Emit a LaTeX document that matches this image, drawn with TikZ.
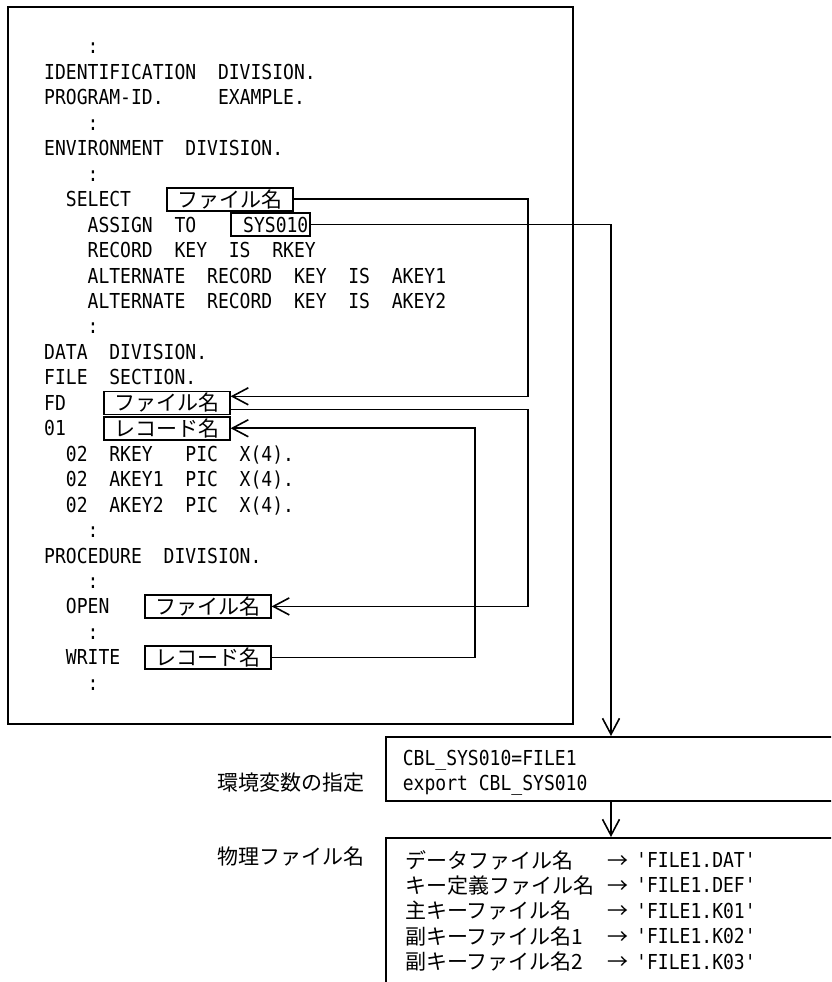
\documentclass[tikz,border=0pt]{standalone}
\usepackage{fontspec}
\usetikzlibrary{arrows.meta, positioning, calc}
\newfontfamily\jpfont{Noto Sans CJK JP}
\newfontfamily\codefont[FakeStretch=0.876]{DejaVu Sans Mono}

\tikzset{
  code/.style={font=\codefont\fontsize{20.6}{25.4}\selectfont, anchor=west, inner sep=0pt, text height=15pt, text depth=0pt},
  jptext/.style={font=\jpfont\fontsize{21}{25.4}\selectfont, anchor=west, inner sep=0pt, text height=18.5pt, text depth=2.5pt},
  namebox/.style={jptext, draw, line width=1.6pt, inner xsep=10.5pt, minimum height=23pt},
  panel/.style={draw, line width=1.6pt, anchor=north west, minimum width=480pt},
  link/.style={line width=1.6pt},
  arrowlink/.style={link, -{Straight Barb[length=16pt, width=17pt]}},
}

\begin{document}
\begin{tikzpicture}[x=1pt, y=-1pt]
  \useasboundingbox (0,0) rectangle (831,982);
  \clip (0,0) rectangle (831,982);

  % program listing
  \draw[line width=2pt] (8,7) rectangle (573,724);
  \foreach \i/\col/\txt in {0/4/:, 1/0/IDENTIFICATION~~DIVISION., 2/0/PROGRAM-ID.~~~~~EXAMPLE.,
      3/4/:, 4/0/ENVIRONMENT~~DIVISION., 5/4/:, 6/2/SELECT, 7/4/ASSIGN~~TO,
      8/4/RECORD~~KEY~~IS~~RKEY, 9/4/ALTERNATE~~RECORD~~KEY~~IS~~AKEY1,
      10/4/ALTERNATE~~RECORD~~KEY~~IS~~AKEY2, 11/4/:, 12/0/DATA~~DIVISION.,
      13/0/FILE~~SECTION., 14/0/FD, 15/0/01, 16/2/02~~RKEY~~~PIC~~X(4).,
      17/2/02~~AKEY1~~PIC~~X(4)., 18/2/02~~AKEY2~~PIC~~X(4)., 19/4/:,
      20/0/PROCEDURE~~DIVISION., 21/4/:, 22/2/OPEN, 23/4/:, 24/2/WRITE, 25/4/:}
    \node[code] (l\i) at ({44+10.86*\col},{46.5+25.45*\i}) {\txt};

  % names in the listing
  \node[namebox] (selfile) at (166,{46.5+25.45*6}) {ファイル名};
  \node[code, draw, line width=1.6pt, inner xsep=1.5pt, minimum height=23pt] (sysname) at (230,{46.5+25.45*7}) {~SYS010};
  \node[namebox] (fdfile) at (103,{46.5+25.45*14}) {ファイル名};
  \node[namebox] (recname) at (103,{46.5+25.45*15}) {レコード名};
  \node[namebox] (openfile) at (144,{46.5+25.45*22}) {ファイル名};
  \node[namebox] (writerec) at (144,{46.5+25.45*24}) {レコード名};

  % environment variable and physical files
  \node[jptext] (envlabel) at (217,782) {環境変数の指定};
  \node[panel, code, anchor=north west, align=left, text width=446pt, inner xsep=17pt,
        text height=18pt, text depth=25.4pt, minimum height=64pt] (envbox) at (385,736)
        {CBL\_SYS010=FILE1\\export\hspace{10.86pt}CBL\_SYS010};
  \node[jptext] (physlabel) at (217,856) {物理ファイル名};
  \node[panel, minimum height=170pt] (physbox) at (385,837) {};
  \foreach \nm/\ext [count=\k from 0] in {データファイル名/DAT, キー定義ファイル名/DEF,
      主キーファイル名/K01, 副キーファイル名1/K02, 副キーファイル名2/K03} {
    \node[jptext] (pn\k) at (405,{860+25.4*\k}) {\nm};
    \node[jptext] (pa\k) at (607,{860+25.4*\k}) {→};
    \node[code] (pf\k) at (636,{860+25.4*\k}) {'FILE1.\ext'};
  }

  % connectors
  \coordinate (xa) at (528,0);
  \coordinate (xb) at (475,0);
  \coordinate (xc) at (611,0);
  \coordinate (fdin) at ([yshift=6.5pt]fdfile.east);
  \coordinate (fdout) at ([yshift=-6.5pt]fdfile.east);
  \draw[arrowlink] (selfile.east) -- (selfile.east -| xa) |- (fdin);
  \draw[arrowlink] (fdout) -- (fdout -| xa) |- (openfile.east);
  \draw[arrowlink] (writerec.east) -- (writerec.east -| xb) |- (recname.east);
  \draw[arrowlink] (sysname.east) -- (sysname.east -| xc) -- (xc |- envbox.north);
  \draw[arrowlink] (xc |- envbox.south) -- (xc |- physbox.north);
\end{tikzpicture}
\end{document}
